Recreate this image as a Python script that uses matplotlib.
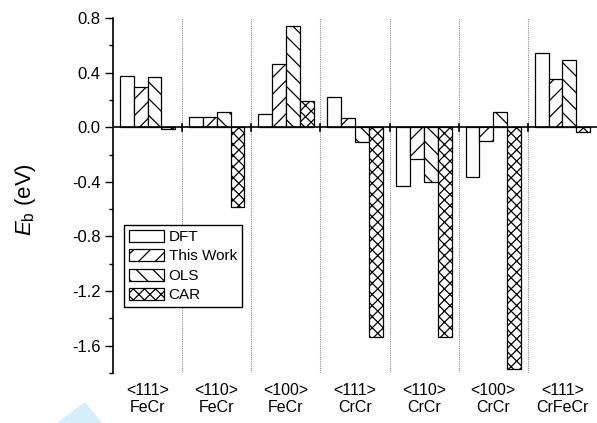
import matplotlib
matplotlib.use("Agg")
import matplotlib.pyplot as plt
import numpy as np
from matplotlib.patches import Polygon

plt.rcParams['font.family'] = ['Liberation Sans', 'DejaVu Sans']
plt.rcParams['mathtext.fontset'] = 'custom'
plt.rcParams['mathtext.rm'] = 'Liberation Sans'
plt.rcParams['mathtext.it'] = 'Liberation Sans:italic'
plt.rcParams['hatch.linewidth'] = 0.9

categories = ["<111>\nFeCr", "<110>\nFeCr", "<100>\nFeCr", "<111>\nCrCr",
              "<110>\nCrCr", "<100>\nCrCr", "<111>\nCrFeCr"]
series_names = ["DFT", "This Work", "OLS", "CAR"]
dft = [0.372, 0.078, 0.095, 0.22, -0.43, -0.362, 0.545]
this_work = [0.291, 0.078, 0.46, 0.071, -0.232, -0.103, 0.355]
ols = [0.367, 0.115, 0.739, -0.105, -0.401, 0.115, 0.494]
car = [-0.01, -0.587, 0.19, -1.539, -1.539, -1.771, -0.037]
hatches = ["", "//", "\\\\", "xxx"]
yticks = [0.8, 0.4, 0.0, -0.4, -0.8, -1.2, -1.6]

W, H = 597, 423
fig = plt.figure(figsize=(W / 100, H / 100), dpi=100)
ax = fig.add_axes([113 / W, 1 - 373 / H, 484 / W, 355 / H])

x = np.arange(len(categories))
width = 0.2
for i, (vals, name, h) in enumerate(zip([dft, this_work, ols, car], series_names, hatches)):
    ax.bar(x + (i - 1.5) * width, vals, width, facecolor="white", edgecolor="black",
           linewidth=0.9, hatch=h, label=name, zorder=2)

ax.set_xlim(-0.5, len(categories) - 0.5)
ax.set_ylim(-1.8, 0.8)

# group separators
for b in np.arange(0.5, len(categories) - 0.5, 1.0):
    ax.axvline(b, color="#8a8a8a", linestyle=(0, (1, 1)), linewidth=0.8, zorder=1)
    ax.plot([b, b], [-0.025, 0.025], color="black", linewidth=1.2, zorder=3)
ax.axhline(0, color="black", linewidth=1.2, zorder=3)

for s in ["top", "right", "bottom"]:
    ax.spines[s].set_visible(False)
ax.spines["left"].set_linewidth(1.2)

ax.set_yticks(yticks)
ax.set_yticklabels([f"{v:.1f}" for v in yticks], fontsize=12)
ax.set_yticks(np.arange(-1.8, 0.81, 0.2), minor=True)
ax.tick_params(axis="y", which="major", length=6, width=1.0, direction="out", pad=3)
ax.tick_params(axis="y", which="minor", length=3, width=1.0, direction="out")

ax.set_xticks(x)
ax.set_xticklabels(categories, fontsize=11.5, linespacing=1.15)
ax.tick_params(axis="x", length=0, pad=7)

ax.set_ylabel(r"$E_{\mathrm{b}}$ (eV)", fontsize=16)
ax.yaxis.set_label_coords(-0.155, 0.49)

leg = ax.legend(loc="upper left", bbox_to_anchor=(0.023, 0.417), borderaxespad=0,
                fontsize=11, fancybox=False, edgecolor="black", framealpha=1,
                handlelength=2.3, handleheight=0.83, handletextpad=0.3,
                labelspacing=0.33, borderpad=0.32)
leg.get_frame().set_linewidth(1.0)

tri = Polygon([[57 / W, 0], [85 / W, 1 - 402 / H], [102 / W, 0]], closed=True,
              transform=fig.transFigure, facecolor="#d6edfa", edgecolor="none")
fig.patches.append(tri)

fig.savefig("out.png", dpi=100)
